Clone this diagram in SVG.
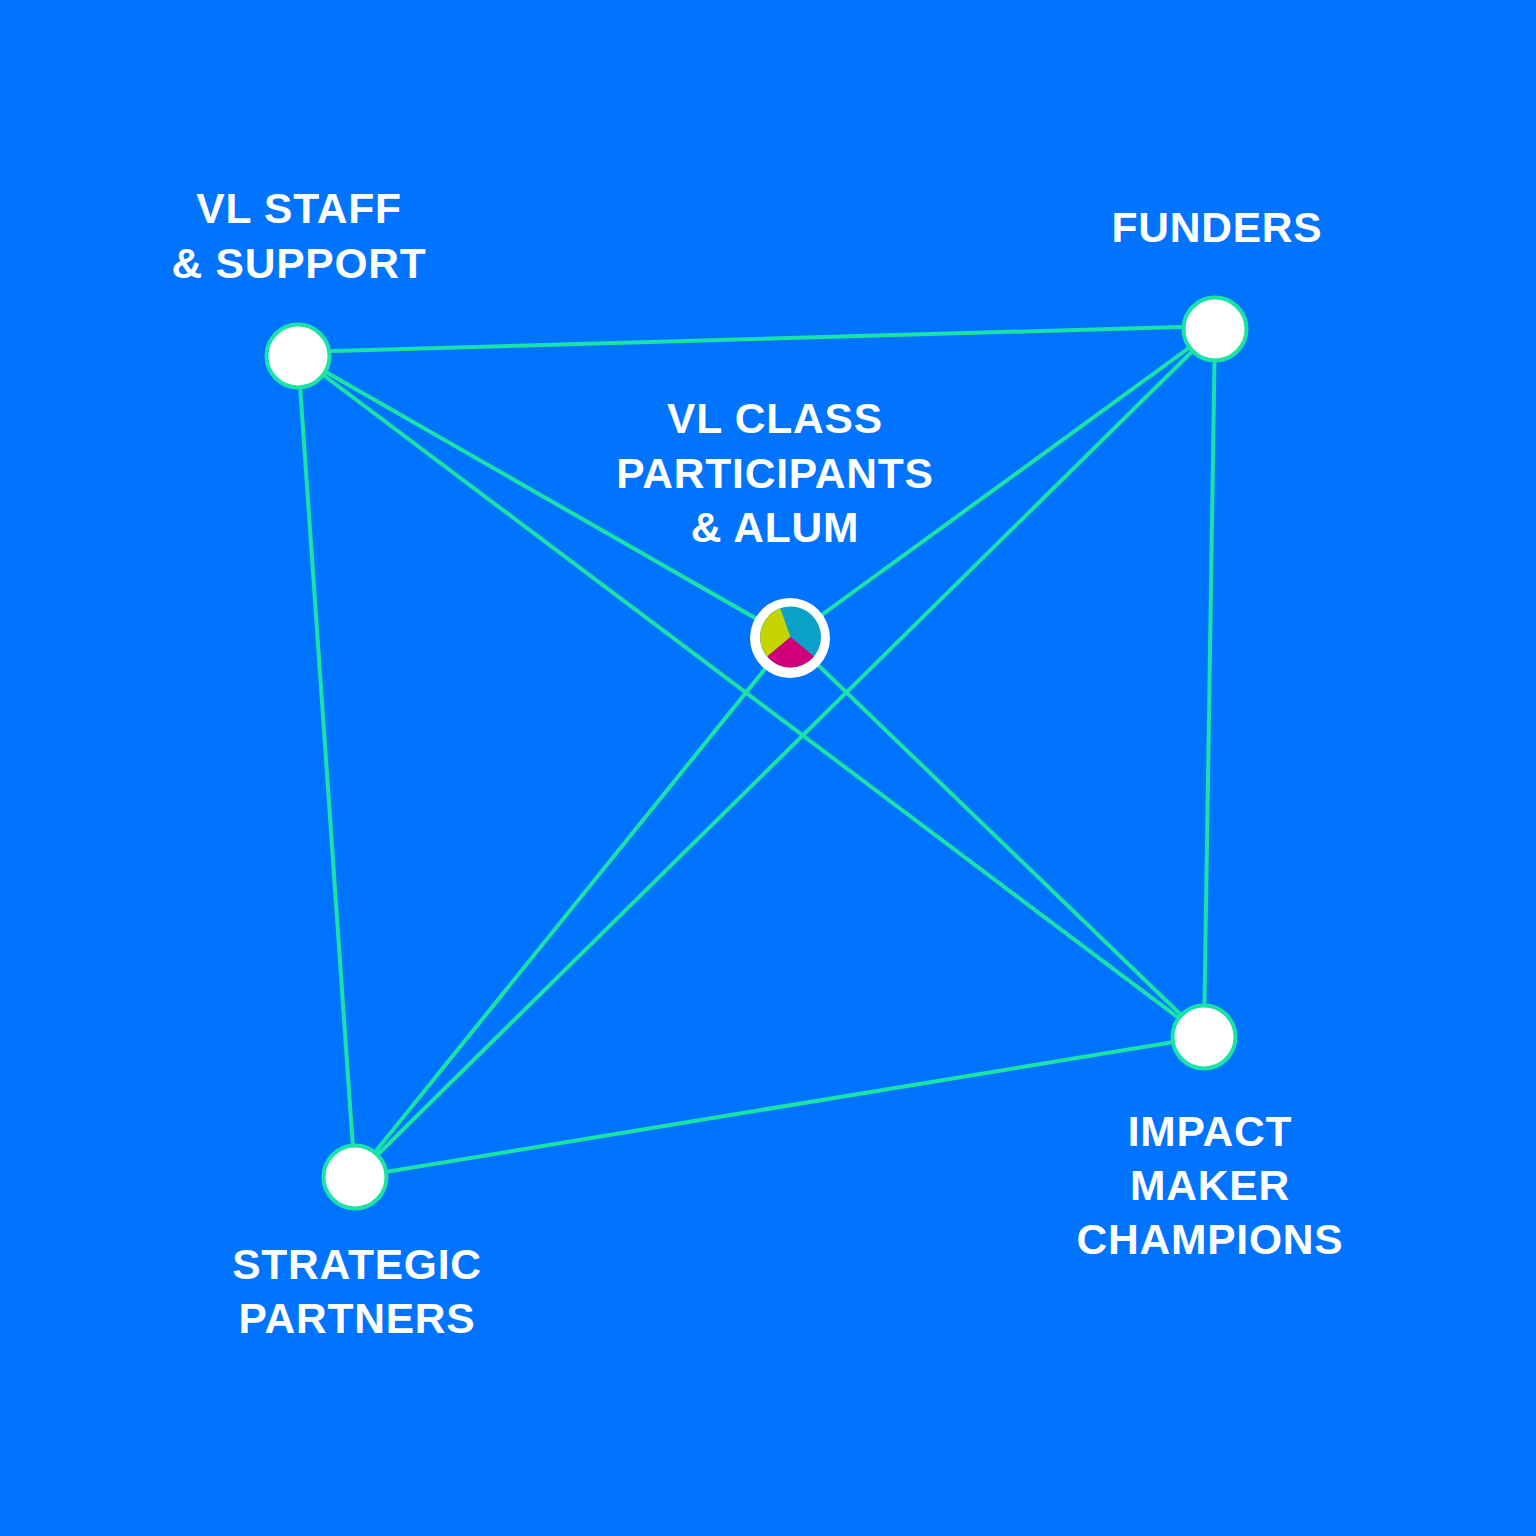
<svg xmlns="http://www.w3.org/2000/svg" width="1536" height="1536" viewBox="0 0 1536 1536">
<style>
.bg{fill:#0074fe}
.edge{stroke:#19e3a6;stroke-width:4;fill:none}
.node{fill:#ffffff;stroke:#19e3a6;stroke-width:4}
.lbl{font-family:"Liberation Sans",Arial,sans-serif;font-weight:bold;font-size:42.5px;letter-spacing:0.8px;fill:#ffffff;text-anchor:middle}
</style>
<rect class="bg" x="0" y="0" width="1536" height="1536"/>
<g id="connectors">
<line class="edge" x1="298" y1="352" x2="1215" y2="326"/>
<line class="edge" x1="298" y1="356" x2="790" y2="638"/>
<line class="edge" x1="298" y1="356" x2="1204" y2="1037"/>
<line class="edge" x1="298" y1="356" x2="355" y2="1177"/>
<line class="edge" x1="1215" y1="329" x2="790" y2="638"/>
<line class="edge" x1="1215" y1="329" x2="355" y2="1177"/>
<line class="edge" x1="1215" y1="329" x2="1204" y2="1037"/>
<line class="edge" x1="790" y1="638" x2="355" y2="1177"/>
<line class="edge" x1="790" y1="638" x2="1204" y2="1037"/>
<line class="edge" x1="1204" y1="1037" x2="355" y2="1177"/>
</g>
<g id="vl-staff">
<circle class="node" cx="298" cy="356" r="31.5"/>
<text class="lbl" x="299" y="223">VL STAFF</text>
<text class="lbl" x="299" y="278">&amp; SUPPORT</text>
</g>
<g id="funders">
<circle class="node" cx="1215" cy="329" r="31.5"/>
<text class="lbl" x="1217" y="242">FUNDERS</text>
</g>
<g id="impact">
<circle class="node" cx="1204" cy="1037" r="31.5"/>
<text class="lbl" x="1210" y="1146">IMPACT</text>
<text class="lbl" x="1210" y="1200">MAKER</text>
<text class="lbl" x="1210" y="1254">CHAMPIONS</text>
</g>
<g id="strategic">
<circle class="node" cx="355" cy="1177" r="31.5"/>
<text class="lbl" x="357" y="1279">STRATEGIC</text>
<text class="lbl" x="357" y="1333">PARTNERS</text>
</g>
<g id="vl-class">
<circle cx="790" cy="638" r="40" fill="#ffffff"/>
<circle cx="790.5" cy="637" r="30.5" fill="#0aa0c8"/>
<path d="M790.5,637 L780.3,608.5 A30.5,30.5 0 0 0 767.2,656.6 Z" fill="#c5d300"/>
<path d="M790.5,637 L767.2,656.6 A30.5,30.5 0 0 0 814,656.5 Z" fill="#d1007a"/>
<text class="lbl" x="775" y="433">VL CLASS</text>
<text class="lbl" x="775" y="488">PARTICIPANTS</text>
<text class="lbl" x="775" y="542">&amp; ALUM</text>
</g>
</svg>
